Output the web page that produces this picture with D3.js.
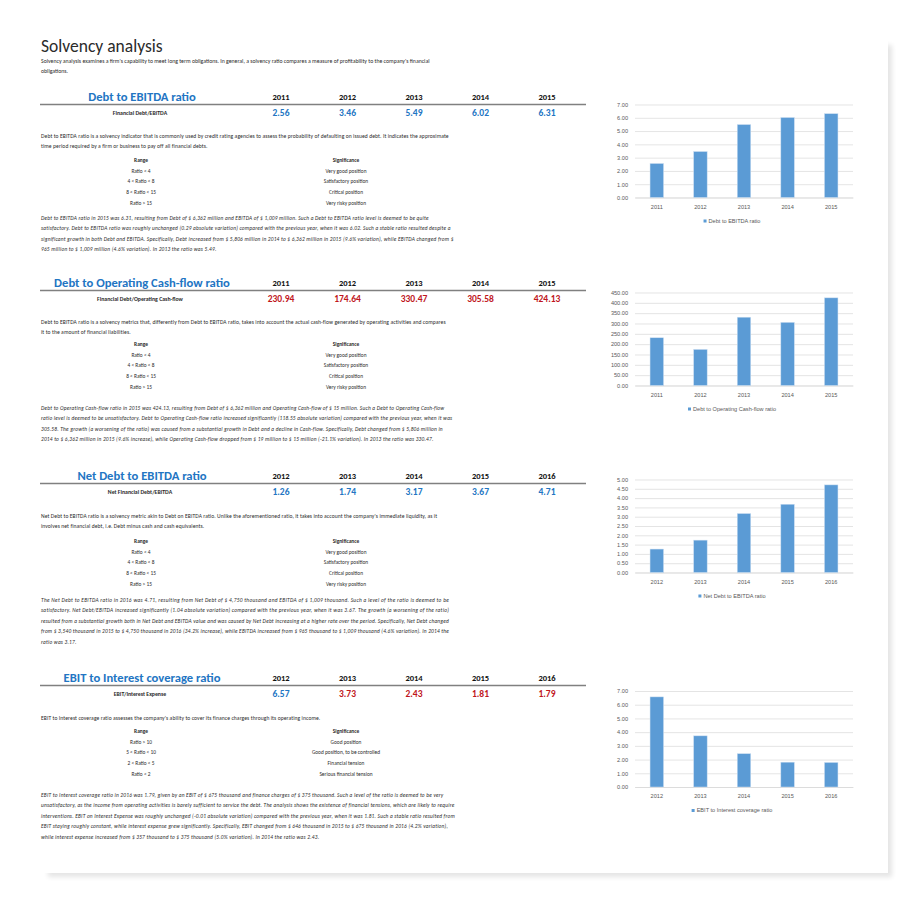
<!DOCTYPE html>
<html>
<head>
<meta charset="utf-8">
<script src="https://cdn.jsdelivr.net/npm/d3@7"></script>
<style>
  body { margin: 0; background: #fff; }
  svg { display: block; }
  .doc text { font-family: Carlito, Lato, "Open Sans", sans-serif; fill: #2b2b2b; }
  .chart text { font-family: "Liberation Sans", Arial, sans-serif; fill: #595959; }
</style>
</head>
<body>
<svg id="page" width="915" height="900"></svg>
<script>
// ---- data ----
const yearsA = ['2011', '2012', '2013', '2014', '2015'];
const yearsB = ['2012', '2013', '2014', '2015', '2016'];

const debtEbitda = [2.56, 3.46, 5.49, 6.02, 6.31];
const debtCashflow = [230.94, 174.64, 330.47, 305.58, 424.13];
const netDebtEbitda = [1.26, 1.74, 3.17, 3.67, 4.71];
const ebitInterest = [6.57, 3.73, 2.43, 1.81, 1.79];

const ticksDebtEbitda = [0, 1, 2, 3, 4, 5, 6, 7];
const ticksDebtCashflow = [0, 50, 100, 150, 200, 250, 300, 350, 400, 450];
const ticksNetDebt = [0, 0.5, 1, 1.5, 2, 2.5, 3, 3.5, 4, 4.5, 5];
const ticksEbitInterest = [0, 1, 2, 3, 4, 5, 6, 7];

const rangesDebt = ['Ratio < 4', '4 < Ratio < 8', '8 < Ratio < 15', 'Ratio > 15'];
const meaningsDebt = ['Very good position', 'Satisfactory position', 'Critical position', 'Very risky position'];
const rangesCover = ['Ratio > 10', '5 < Ratio < 10', '2 < Ratio < 5', 'Ratio < 2'];
const meaningsCover = ['Good position', 'Good position, to be controlled', 'Financial tension', 'Serious financial tension'];

const introLines = [
  "Solvency analysis examines a firm's capability to meet long term obligations. In general, a solvency ratio compares a measure of profitability to the company's financial",
  "obligations."
];

const sections = [
  {
    title: 'Debt to EBITDA ratio', label: 'Financial Debt/EBITDA', legend: 'Debt to EBITDA ratio',
    years: yearsA, values: debtEbitda, ticks: ticksDebtEbitda, good: v => v < 8,
    ranges: rangesDebt, meanings: meaningsDebt,
    desc: [
      'Debt to EBITDA ratio is a solvency indicator that is commonly used by credit rating agencies to assess the probability of defaulting on issued debt. It indicates the approximate',
      'time period required by a firm or business to pay off all financial debts.'
    ],
    para: [
      'Debt to EBITDA ratio in 2015 was 6.31, resulting from Debt of $ 6,362 million and EBITDA of $ 1,009 million. Such a Debt to EBITDA ratio level is deemed to be quite',
      'satisfactory. Debt to EBITDA ratio was roughly unchanged (0.29 absolute variation) compared with the previous year, when it was 6.02. Such a stable ratio resulted despite a',
      'significant growth in both Debt and EBITDA. Specifically, Debt increased from $ 5,806 million in 2014 to $ 6,362 million in 2015 (9.6% variation), while EBITDA changed from $',
      '965 million to $ 1,009 million (4.6% variation). In 2013 the ratio was 5.49.'
    ]
  },
  {
    title: 'Debt to Operating Cash-flow ratio', label: 'Financial Debt/Operating Cash-flow', legend: 'Debt to Operating Cash-flow ratio',
    years: yearsA, values: debtCashflow, ticks: ticksDebtCashflow, good: v => v < 8,
    ranges: rangesDebt, meanings: meaningsDebt,
    desc: [
      'Debt to EBITDA ratio is a solvency metrics that, differently from Debt to EBITDA ratio, takes into account the actual cash-flow generated by operating activities and compares',
      'it to the amount of financial liabilities.'
    ],
    para: [
      'Debt to Operating Cash-flow ratio in 2015 was 424.13, resulting from Debt of $ 6,362 million and Operating Cash-flow of $ 15 million. Such a Debt to Operating Cash-flow',
      'ratio level is deemed to be unsatisfactory. Debt to Operating Cash-flow ratio increased significantly (118.55 absolute variation) compared with the previous year, when it was',
      '305.58. The growth (a worsening of the ratio) was caused from a substantial growth in Debt and a decline in Cash-flow. Specifically, Debt changed from $ 5,806 million in',
      '2014 to $ 6,362 million in 2015 (9.6% increase), while Operating Cash-flow dropped from $ 19 million to $ 15 million (-21.1% variation). In 2013 the ratio was 330.47.'
    ]
  },
  {
    title: 'Net Debt to EBITDA ratio', label: 'Net Financial Debt/EBITDA', legend: 'Net Debt to EBITDA ratio',
    years: yearsB, values: netDebtEbitda, ticks: ticksNetDebt, good: v => v < 8,
    ranges: rangesDebt, meanings: meaningsDebt, justify: true,
    desc: [
      "Net Debt to EBITDA ratio is a solvency metric akin to Debt on EBITDA ratio. Unlike the aforementioned ratio, it takes into account the company's immediate liquidity, as it",
      'involves net financial debt, i.e. Debt minus cash and cash equivalents.'
    ],
    para: [
      'The Net Debt to EBITDA ratio in 2016 was 4.71, resulting from Net Debt of $ 4,750 thousand and EBITDA of $ 1,009 thousand. Such a level of the ratio is deemed to be',
      'satisfactory. Net Debt/EBITDA increased significantly (1.04 absolute variation) compared with the previous year, when it was 3.67. The growth (a worsening of the ratio)',
      'resulted from a substantial growth both in Net Debt and EBITDA value and was caused by Net Debt increasing at a higher rate over the period. Specifically, Net Debt changed',
      'from $ 3,540 thousand in 2015 to $ 4,750 thousand in 2016 (34.2% increase), while EBITDA increased from $ 965 thousand to $ 1,009 thousand (4.6% variation). In 2014 the',
      'ratio was 3.17.'
    ]
  },
  {
    title: 'EBIT to Interest coverage ratio', label: 'EBIT/Interest Expense', legend: 'EBIT to Interest coverage ratio',
    years: yearsB, values: ebitInterest, ticks: ticksEbitInterest, good: v => v > 5,
    ranges: rangesCover, meanings: meaningsCover,
    desc: [
      "EBIT to Interest coverage ratio assesses the company's ability to cover its finance charges through its operating income."
    ],
    para: [
      'EBIT to Interest coverage ratio in 2016 was 1.79, given by an EBIT of $ 675 thousand and finance charges of $ 375 thousand. Such a level of the ratio is deemed to be very',
      'unsatisfactory, as the income from operating activities is barely sufficient to service the debt. The analysis shows the existence of financial tensions, which are likely to require',
      'interventions. EBIT on Interest Expense was roughly unchanged (-0.01 absolute variation) compared with the previous year, when it was 1.81. Such a stable ratio resulted from',
      'EBIT staying roughly constant, while interest expense grew significantly. Specifically, EBIT changed from $ 646 thousand in 2015 to $ 675 thousand in 2016 (4.2% variation),',
      'while interest expense increased from $ 357 thousand to $ 375 thousand (5.0% variation). In 2014 the ratio was 2.43.'
    ]
  }
];

// vertical layout of each block (heading row, description, range table, comment, chart plot)
const layout = [
  { y0: 97,  desc: 39, table: 63, para: 121, plotTop: 104.5, plotBottom: 197.5 },
  { y0: 283, desc: 39, table: 61, para: 125, plotTop: 292.5, plotBottom: 385.5 },
  { y0: 476, desc: 40, table: 65, para: 124, plotTop: 479.5, plotBottom: 572.5 },
  { y0: 678, desc: 40, table: 53, para: 117, plotTop: 691,   plotBottom: 787 }
];

const BLUE = '#2275c3';
const RED = '#c0161c';
const BAR = '#5b9bd5';
const LEFT = 41;
const BODY = '5.6px';   // plain body text
const ITALIC = '5.4px'; // comment paragraphs
const TABLE = '5.4px';

const svg = d3.select('#page');

// page with a soft shadow
const defs = svg.append('defs');
defs.append('filter').attr('id', 'shadow').attr('x', '-5%').attr('y', '-5%').attr('width', '110%').attr('height', '110%')
  .append('feGaussianBlur').attr('stdDeviation', 2.5);
svg.append('rect').attr('x', 48).attr('y', 45).attr('width', 844).attr('height', 832)
  .attr('fill', '#000').attr('opacity', 0.10).attr('filter', 'url(#shadow)');
svg.append('rect').attr('x', 0).attr('y', 0).attr('width', 888).attr('height', 873).attr('fill', '#fff');

const doc = svg.append('g').attr('class', 'doc');

doc.append('text').attr('x', LEFT).attr('y', 51.5).style('font-size', '17.5px').text('Solvency analysis');
doc.selectAll('text.intro').data(introLines).join('text').attr('class', 'intro')
  .attr('x', LEFT).attr('y', (d, i) => 63 + i * 9.5).style('font-size', '5.77px').text(d => d);

// year columns of the ratio tables
const col = d3.scalePoint().domain(d3.range(5)).range([281, 547]);
const ROW_STEP = 10.7;

sections.forEach((s, si) => {
  const L = layout[si];
  const g = doc.append('g');

  g.append('text').attr('x', 142).attr('y', L.y0).attr('dy', '0.35em').attr('text-anchor', 'middle')
    .style('font-size', '12.6px').style('font-weight', 700).style('fill', BLUE).text(s.title);

  g.selectAll('text.year').data(s.years).join('text').attr('class', 'year')
    .attr('x', (d, i) => col(i)).attr('y', L.y0).attr('dy', '0.35em').attr('text-anchor', 'middle')
    .style('font-size', '8.5px').style('font-weight', 700).style('fill', '#111').text(d => d);

  g.append('line').attr('x1', 40).attr('x2', 586).attr('y1', L.y0 + 7.5).attr('y2', L.y0 + 7.5)
    .attr('stroke', '#808080').attr('stroke-width', 1.3);

  g.append('text').attr('x', 140).attr('y', L.y0 + 15.5).attr('dy', '0.35em').attr('text-anchor', 'middle')
    .style('font-size', '5.8px').style('font-weight', 700).text(s.label);

  g.selectAll('text.val').data(s.values).join('text').attr('class', 'val')
    .attr('x', (d, i) => col(i)).attr('y', L.y0 + 16).attr('dy', '0.35em').attr('text-anchor', 'middle')
    .style('font-size', '9.5px').style('font-weight', 700).style('fill', d => s.good(d) ? BLUE : RED)
    .text(d => d3.format('.2f')(d));

  g.selectAll('text.desc').data(s.desc).join('text').attr('class', 'desc')
    .attr('x', LEFT).attr('y', (d, i) => L.y0 + L.desc + i * 10.5).attr('dy', '0.35em')
    .style('font-size', BODY).style('letter-spacing', '0.08px').text(d => d);

  // range / significance table
  const ty = L.y0 + L.table;
  g.append('text').attr('x', 141).attr('y', ty).attr('dy', '0.35em').attr('text-anchor', 'middle')
    .style('font-size', TABLE).style('font-weight', 700).text('Range');
  g.append('text').attr('x', 346).attr('y', ty).attr('dy', '0.35em').attr('text-anchor', 'middle')
    .style('font-size', TABLE).style('font-weight', 700).text('Significance');
  g.selectAll('text.rng').data(s.ranges).join('text').attr('class', 'rng')
    .attr('x', 141).attr('y', (d, i) => ty + (i + 1) * ROW_STEP).attr('dy', '0.35em').attr('text-anchor', 'middle')
    .style('font-size', TABLE).text(d => d);
  g.selectAll('text.sig').data(s.meanings).join('text').attr('class', 'sig')
    .attr('x', 346).attr('y', (d, i) => ty + (i + 1) * ROW_STEP).attr('dy', '0.35em').attr('text-anchor', 'middle')
    .style('font-size', TABLE).text(d => d);

  // comment paragraph
  const p = g.selectAll('text.para').data(s.para).join('text').attr('class', 'para')
    .attr('x', LEFT).attr('y', (d, i) => L.y0 + L.para + i * 10.5).attr('dy', '0.35em')
    .style('font-size', ITALIC).style('font-style', 'italic').style('letter-spacing', '0.2px').text(d => d);
  if (s.justify) {
    p.filter((d, i) => i < s.para.length - 1).attr('textLength', 408).attr('lengthAdjust', 'spacing');
  }

  drawChart(svg.append('g').attr('class', 'chart'), s, L);
});

function drawChart(g, s, L) {
  const x0 = 635, x1 = 853;
  const x = d3.scaleBand().domain(s.years).range([x0, x1]).paddingInner(0.69).paddingOuter(0.345);
  const y = d3.scaleLinear().domain([0, d3.max(s.ticks)]).range([L.plotBottom, L.plotTop]);

  const yAxis = g.append('g').attr('transform', `translate(${x0},0)`)
    .call(d3.axisLeft(y).tickValues(s.ticks).tickSize(-(x1 - x0)).tickPadding(7).tickFormat(d3.format('.2f')));
  yAxis.select('.domain').remove();
  yAxis.selectAll('.tick line').attr('stroke', '#d9d9d9').attr('stroke-width', 0.7);
  yAxis.selectAll('.tick text').style('font-size', '5.6px');

  const xAxis = g.append('g').attr('transform', `translate(0,${L.plotBottom})`)
    .call(d3.axisBottom(x).tickSize(0).tickPadding(7.5));
  xAxis.select('.domain').attr('stroke', '#d9d9d9').attr('stroke-width', 0.7);
  xAxis.selectAll('.tick text').style('font-size', '5.6px');

  g.selectAll('rect.bar').data(s.values).join('rect').attr('class', 'bar')
    .attr('x', (d, i) => x(s.years[i]))
    .attr('y', d => y(d))
    .attr('width', x.bandwidth())
    .attr('height', d => y(0) - y(d))
    .attr('fill', BAR).attr('stroke', '#cfe0f2').attr('stroke-width', 0.5);

  const lg = g.append('g').attr('transform', `translate(732,${L.plotBottom + 23.5})`);
  const lt = lg.append('text').attr('x', 3).attr('dy', '0.35em').style('font-size', '5.6px').text(s.legend);
  const w = lt.node().getComputedTextLength();
  lt.attr('x', -w / 2 + 2.5);
  lg.append('rect').attr('x', -w / 2 - 2.5).attr('y', -1.5).attr('width', 3).attr('height', 3).attr('fill', BAR);
}
</script>
</body>
</html>
